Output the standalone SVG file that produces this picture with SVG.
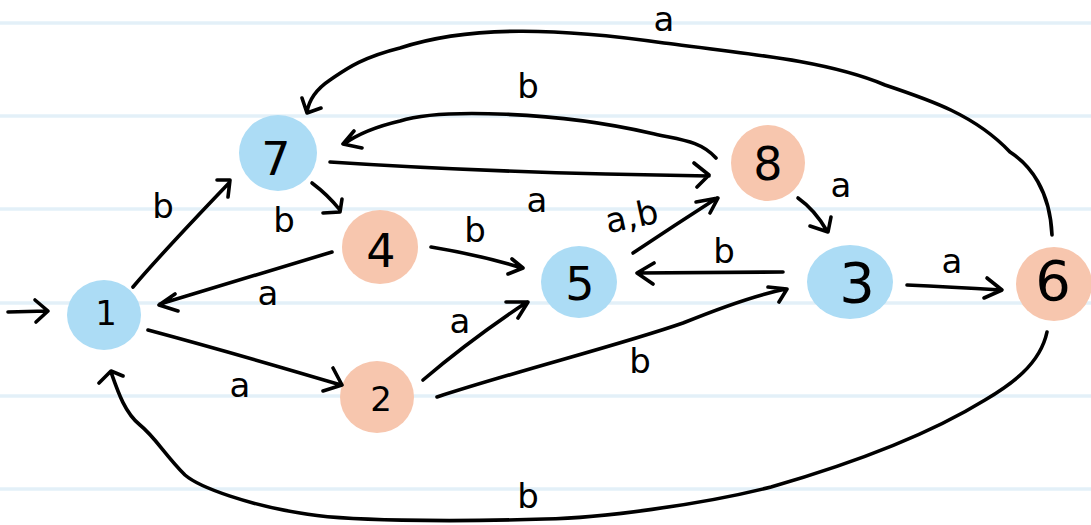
<svg xmlns="http://www.w3.org/2000/svg" width="1091" height="525" viewBox="0 0 1091 525">
<style>
.rule{stroke:#e3f0f8;stroke-width:3.5}
.blue{fill:#acdcf5}
.sal{fill:#f7c6ae}
.e{fill:none;stroke:#000;stroke-width:3.6;stroke-linecap:round;stroke-linejoin:round}
.n{font-family:"DejaVu Sans","Liberation Sans",sans-serif;fill:#000;text-anchor:middle}
.l{font-family:"DejaVu Sans","Liberation Sans",sans-serif;font-size:34px;fill:#000;text-anchor:middle}
</style>
<rect width="1091" height="525" fill="#fff"/>
<g id="paper">
<line class="rule" x1="0" y1="23" x2="1091" y2="23"/>
<line class="rule" x1="0" y1="116" x2="1091" y2="116"/>
<line class="rule" x1="0" y1="209" x2="1091" y2="209"/>
<line class="rule" x1="0" y1="303" x2="1091" y2="303"/>
<line class="rule" x1="0" y1="396" x2="1091" y2="396"/>
<line class="rule" x1="0" y1="489" x2="1091" y2="489"/>
</g>
<g id="node1"><ellipse class="blue" cx="104" cy="315" rx="37" ry="35"/><text class="n" x="106" y="325" font-size="34">1</text></g>
<g id="node7"><ellipse class="blue" cx="278" cy="153" rx="39" ry="38"/><text class="n" x="276" y="175" font-size="46">7</text></g>
<g id="node4"><ellipse class="sal" cx="380" cy="247" rx="38" ry="37"/><text class="n" x="381" y="267" font-size="46">4</text></g>
<g id="node5"><ellipse class="blue" cx="579" cy="282" rx="38" ry="36"/><text class="n" x="580" y="300" font-size="46">5</text></g>
<g id="node8"><ellipse class="sal" cx="768" cy="163" rx="37" ry="38"/><text class="n" x="768" y="180" font-size="46">8</text></g>
<g id="node3"><ellipse class="blue" cx="850" cy="282" rx="43" ry="37"/><text class="n" x="857" y="302" font-size="56">3</text></g>
<g id="node6"><ellipse class="sal" cx="1054" cy="284" rx="38" ry="37"/><text class="n" x="1053" y="300" font-size="56">6</text></g>
<g id="node2"><ellipse class="sal" cx="377" cy="397" rx="37" ry="36"/><text class="n" x="381" y="411" font-size="34">2</text></g>
<g id="connectors">
<path class="e" d="M8,312 L47,311 M35,300 L48,311 L36,322"/>
<path class="e" d="M133,287 Q160,255 229,183 M217,180 L230,180 L228,197"/>
<path class="e" d="M312,183 Q328,195 340,210 M342,199 L340,212 L323,213"/>
<path class="e" d="M330,162 C420,168 560,174 709,176 M694,163 L709,175 L697,187"/>
<path class="e" d="M716,158 C700,140 680,140 650,133 C560,112 440,108 400,121 C370,128 355,136 344,144 M354,131 L343,144 L362,148"/>
<path class="e" d="M1052,235 C1050,190 1030,165 1010,152 C975,115 930,100 885,85 C830,62 760,55 664,43 C560,28 470,25 400,48 C360,58 345,70 330,80 C315,90 309,100 307,112 M302,98 L307,113 L321,108"/>
<path class="e" d="M431,247 Q480,255 522,268 M512,259 L523,268 L508,274"/>
<path class="e" d="M332,252 L160,304 M175,294 L159,305 L178,311"/>
<path class="e" d="M148,330 Q230,352 341,385 M333,368 L342,385 L323,391"/>
<path class="e" d="M423,380 Q470,340 527,302 M506,302 L528,302 L518,318"/>
<path class="e" d="M437,397 C520,370 620,345 683,323 C720,308 755,295 786,289 M768,287 L787,289 L779,302"/>
<path class="e" d="M783,272 L638,273 M654,263 L637,273 L653,284"/>
<path class="e" d="M633,253 Q675,225 717,198 M696,202 L718,198 L710,213"/>
<path class="e" d="M798,198 Q815,210 827,231 M831,217 L828,232 L810,226"/>
<path class="e" d="M907,285 Q950,287 1001,290 M987,278 L1002,290 L984,298"/>
<path class="e" d="M1047,332 C1040,365 1010,385 985,400 C920,440 830,470 771,487 C700,505 600,518 545,519 C450,522 340,521 300,513 C250,505 200,488 185,475 C165,455 155,437 140,425 C125,413 118,392 111,372 M99,383 L111,371 L123,376"/>
</g>
<g id="labels">
<text class="l" x="664" y="31">a</text>
<text class="l" x="528" y="98">b</text>
<text class="l" x="163" y="218">b</text>
<text class="l" x="284" y="232">b</text>
<text class="l" x="537" y="212">a</text>
<text class="l" x="475" y="242">b</text>
<text class="l" x="632" y="228" transform="rotate(-12 632 218)">a,b</text>
<text class="l" x="841" y="197">a</text>
<text class="l" x="724" y="263">b</text>
<text class="l" x="952" y="273">a</text>
<text class="l" x="268" y="305">a</text>
<text class="l" x="240" y="397">a</text>
<text class="l" x="460" y="333">a</text>
<text class="l" x="640" y="373">b</text>
<text class="l" x="528" y="508">b</text>
</g>
</svg>
